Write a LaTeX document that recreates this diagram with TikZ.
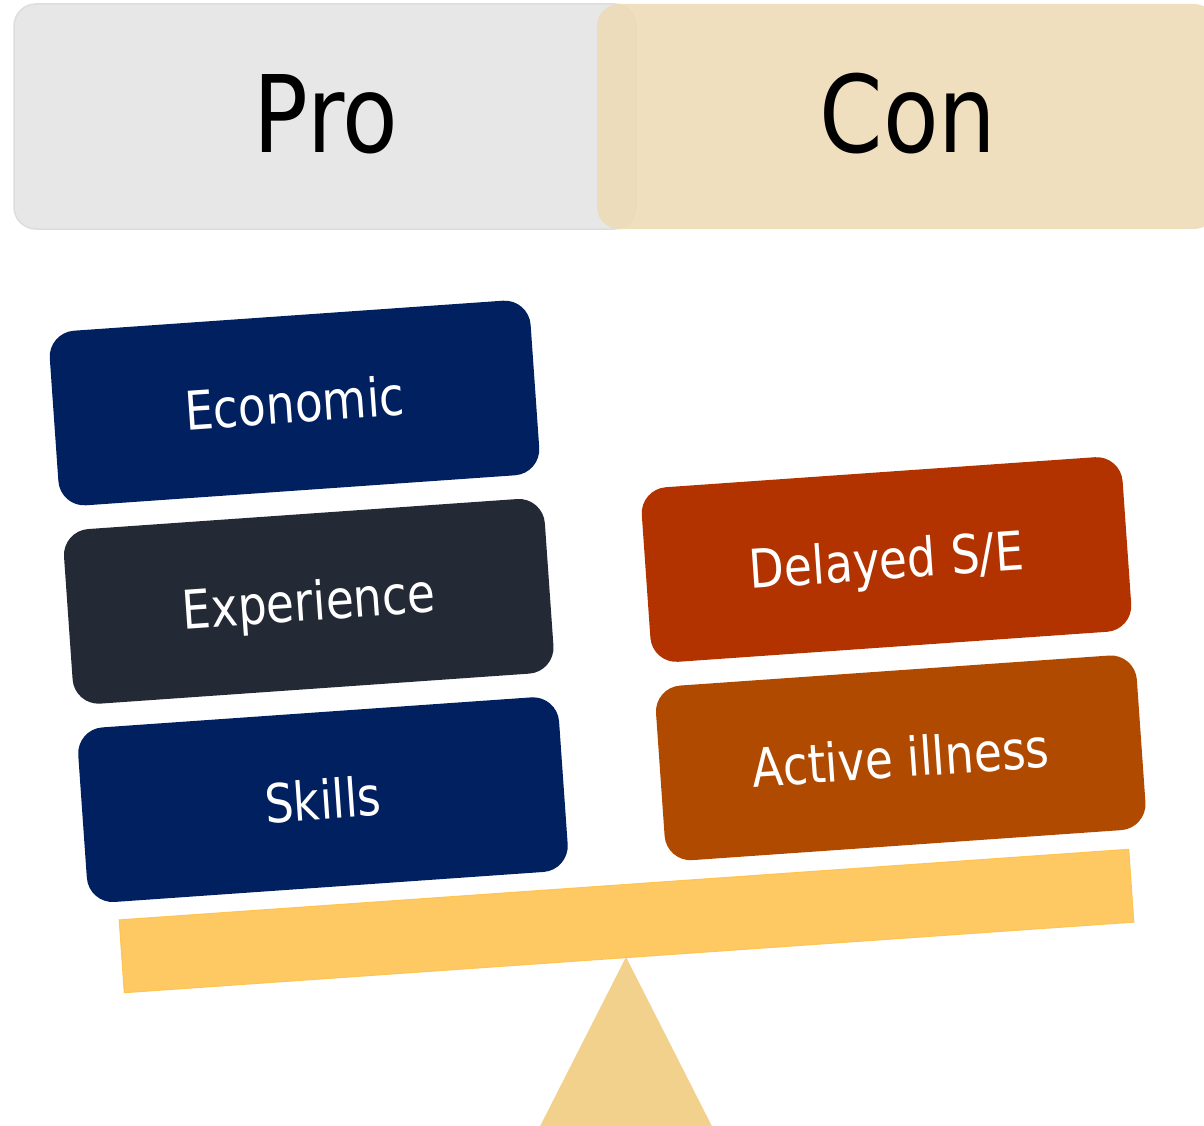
\documentclass[tikz,border=0pt]{standalone}
\usepackage{fontspec}
\setmainfont{DejaVu Sans}[FakeStretch=0.85]
\usepackage{xcolor}
\usepackage{tikz}
\usetikzlibrary{positioning}
\definecolor{navy}{HTML}{00205F}
\definecolor{slate}{HTML}{232A35}
\definecolor{rust}{HTML}{B23300}
\definecolor{amber}{HTML}{B04A00}
\definecolor{beamcol}{HTML}{FEC862}
\definecolor{beamline}{HTML}{FFC451}
\definecolor{fulcrum}{HTML}{F2D18C}
\definecolor{progray}{HTML}{E7E7E7}
\definecolor{proline}{HTML}{DDDDDD}
\definecolor{contan}{HTML}{EDDBB5}
\tikzset{
  Kopf/.style={rounded corners=22pt}, % Kopfzeile
  KopfText/.style={anchor=base, font=\fontsize{107}{120}\selectfont},
  Block/.style={rounded corners=26pt, minimum width=482pt, minimum height=175pt,
    inner sep=0pt, text=white, text height=39pt, text depth=0pt,
    font=\fontsize{53.5}{60}\selectfont, rotate=4}, % Gewichte
  ProBlock/.style={Block, fill=#1},
  ConBlock/.style={Block, fill=#1}
}
\begin{document}
\begin{tikzpicture}[x=1pt, y=-1pt]
\useasboundingbox (0,0) rectangle (1204,1126);
\clip (0,0) rectangle (1204,1126);

%Kopfzeile
\draw[Kopf, fill=progray, draw=proline, line width=1.5pt] (14,4) rectangle (636,229);
\fill[Kopf, fill=contan, fill opacity=0.88] (597,4) rectangle (1216,229);
\node[KopfText] (pro) at (326,153) {Pro};
\node[KopfText] (con) at (908,153) {Con};

%Waage
\fill[fulcrum] (626,957) -- (530,1146) -- (722,1146) -- cycle;
\node[fill=beamcol, draw=beamline, line width=1pt, minimum width=1012pt,
  minimum height=73pt, inner sep=0pt, rotate=4] (beam) at (626.5,921) {};

%Pro
\node[ProBlock=navy] (econ) at (294.5,403) {Economic};
\node[ProBlock=slate, below=23.5pt of econ, xshift=2pt] (exp) {Experience};
\node[ProBlock=navy, below=23.5pt of exp, xshift=2pt] (skills) {Skills};

%Con
\node[ConBlock=rust] (delay) at (886.5,559.5) {Delayed S/E};
\node[ConBlock=amber, below=23.5pt of delay, xshift=2pt] (ill) {Active illness};

\end{tikzpicture}
\end{document}
